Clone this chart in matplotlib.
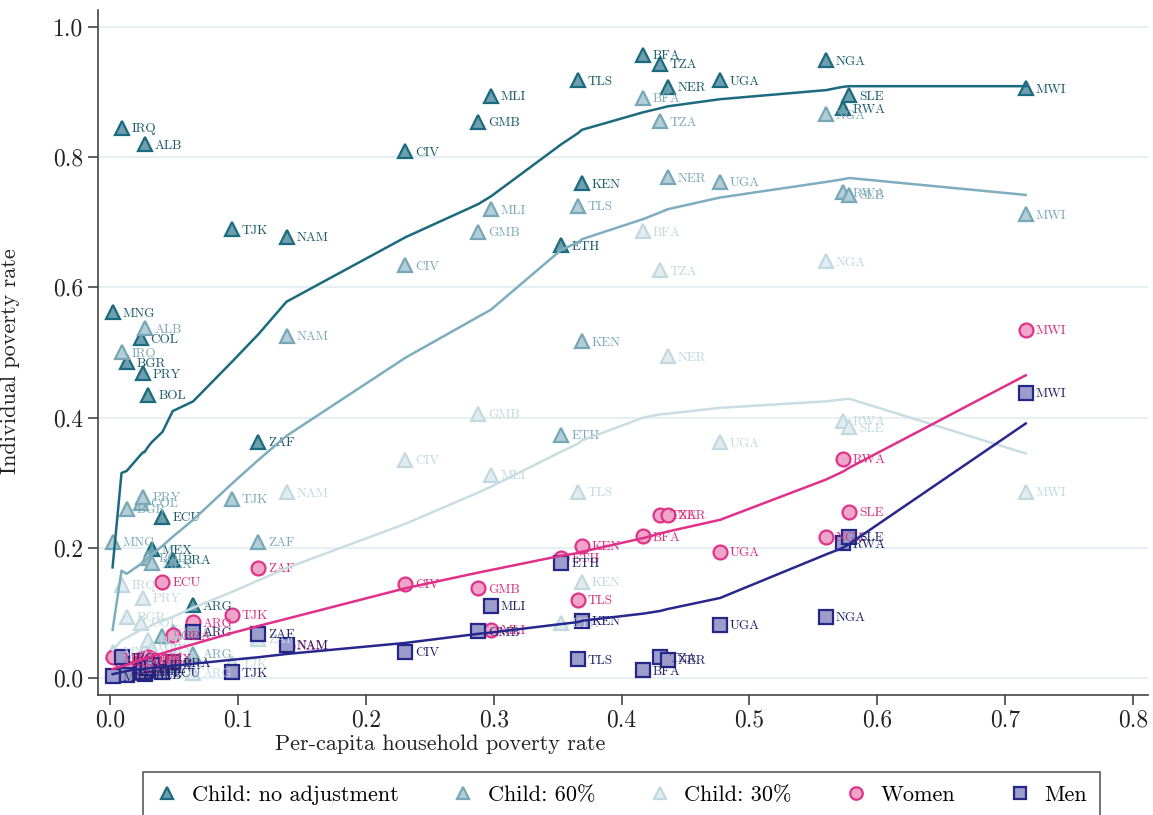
import numpy as np
import matplotlib.pyplot as plt
from matplotlib.lines import Line2D

plt.rcParams['font.family'] = ['cmr10', 'DejaVu Serif']
plt.rcParams['axes.unicode_minus'] = False

# country codes and per-capita household poverty rate (x)
countries = ['MNG', 'IRQ', 'BGR', 'COL', 'ALB', 'PRY', 'BOL', 'MEX', 'ECU', 'BRA',
             'ARG', 'TJK', 'ZAF', 'NAM', 'CIV', 'GMB', 'MLI', 'ETH', 'TLS', 'KEN',
             'BFA', 'TZA', 'NER', 'UGA', 'NGA', 'RWA', 'SLE', 'MWI']
hh_rate = [0.002, 0.009, 0.013, 0.024, 0.027, 0.026, 0.030, 0.033, 0.041, 0.049,
           0.065, 0.095, 0.116, 0.138, 0.231, 0.288, 0.298, 0.353, 0.366, 0.369,
           0.417, 0.430, 0.436, 0.477, 0.560, 0.573, 0.578, 0.716]

# individual poverty rates
child_noadj = [0.562, 0.845, 0.485, 0.522, 0.820, 0.468, 0.435, 0.198, 0.248, 0.182,
               0.112, 0.689, 0.363, 0.678, 0.809, 0.854, 0.894, 0.665, 0.918, 0.760,
               0.957, 0.943, 0.908, 0.918, 0.949, 0.875, 0.895, 0.906]
child_60 = [0.209, 0.500, 0.260, 0.269, 0.537, 0.278, 0.185, 0.176, 0.065, 0.070,
            0.037, 0.275, 0.209, 0.526, 0.634, 0.685, 0.720, 0.374, 0.725, 0.517,
            0.891, 0.855, 0.769, 0.762, 0.866, 0.746, 0.742, 0.712]
child_30 = [0.040, 0.143, 0.094, 0.085, 0.045, 0.123, 0.058, 0.045, 0.010, 0.020,
            0.008, 0.023, 0.060, 0.285, 0.335, 0.406, 0.312, 0.085, 0.286, 0.148,
            0.686, 0.626, 0.494, 0.362, 0.640, 0.395, 0.385, 0.286]
women = [0.032, 0.025, 0.015, 0.030, 0.020, 0.028, 0.032, 0.030, 0.148, 0.066,
         0.086, 0.097, 0.169, 0.050, 0.145, 0.138, 0.074, 0.185, 0.120, 0.203,
         0.218, 0.251, 0.251, 0.194, 0.217, 0.337, 0.255, 0.535]
men = [0.003, 0.032, 0.005, 0.012, 0.006, 0.010, 0.015, 0.020, 0.009, 0.024,
       0.071, 0.009, 0.068, 0.051, 0.040, 0.072, 0.111, 0.177, 0.029, 0.088,
       0.012, 0.032, 0.028, 0.082, 0.094, 0.207, 0.217, 0.438]

# smoothed (fitted) values at each country's household rate
fit_noadj = [0.170, 0.315, 0.318, 0.343, 0.347, 0.347, 0.356, 0.363, 0.378, 0.410,
             0.425, 0.485, 0.528, 0.578, 0.677, 0.728, 0.740, 0.820, 0.837, 0.842,
             0.869, 0.875, 0.878, 0.889, 0.903, 0.908, 0.909, 0.909]
fit_60 = [0.074, 0.165, 0.160, 0.175, 0.178, 0.178, 0.185, 0.190, 0.203, 0.217,
          0.243, 0.298, 0.335, 0.372, 0.492, 0.555, 0.566, 0.658, 0.669, 0.674,
          0.705, 0.715, 0.720, 0.738, 0.762, 0.766, 0.768, 0.742]
fit_30 = [0.043, 0.058, 0.062, 0.074, 0.075, 0.075, 0.078, 0.082, 0.088, 0.094,
          0.108, 0.132, 0.150, 0.169, 0.237, 0.285, 0.294, 0.348, 0.360, 0.365,
          0.400, 0.405, 0.406, 0.415, 0.425, 0.428, 0.429, 0.345]
fit_women = [0.014, 0.018, 0.020, 0.028, 0.029, 0.029, 0.032, 0.034, 0.038, 0.043,
             0.052, 0.069, 0.080, 0.091, 0.138, 0.162, 0.166, 0.188, 0.192, 0.194,
             0.215, 0.222, 0.225, 0.243, 0.305, 0.317, 0.323, 0.465]
fit_men = [0.006, 0.009, 0.011, 0.014, 0.014, 0.014, 0.015, 0.016, 0.017, 0.019,
           0.022, 0.028, 0.032, 0.037, 0.054, 0.068, 0.070, 0.083, 0.086, 0.088,
           0.099, 0.103, 0.106, 0.123, 0.190, 0.200, 0.206, 0.391]

series_names = ['Child: no adjustment', 'Child: 60%', 'Child: 30%', 'Women', 'Men']

series = [
    # values, fit, marker, edge, fill, label colour, line colour
    (child_noadj, fit_noadj, '^', '#1b6a7e', '#6d9fae', '#1b5a6b', '#1b6a7e'),
    (child_60, fit_60, '^', '#77a7b6', '#b3ced7', '#7ea9b6', '#7daebd'),
    (child_30, fit_30, '^', '#c2d9df', '#e1edf0', '#c3d8de', '#c9dde3'),
    (women, fit_women, 'o', '#df3389', '#eea5c9', '#d8307f', '#e0308a'),
    (men, fit_men, 's', '#25258a', '#9d9dcb', '#22226a', '#28288c'),
]

fig = plt.figure(figsize=(11.53, 8.15), dpi=100)
ax = fig.add_axes([98 / 1153, 1 - 695 / 815, 1050 / 1153, 685 / 815])

x = np.array(hh_rate)
order = np.argsort(x)

for vals, fit, mk, ec, fc, tc, lc in series:
    ax.plot(x, vals, ls='none', marker=mk, markersize=10 if mk != 's' else 9.5,
            markeredgecolor=ec, markerfacecolor=fc, markeredgewidth=1.6, zorder=3)
    for cx, cy, code in zip(x, vals, countries):
        ax.annotate(code, (cx, cy), xytext=(7, -1), textcoords='offset points',
                    va='center', ha='left', fontsize=9.5, color=tc, zorder=4)

for vals, fit, mk, ec, fc, tc, lc in series:
    ax.plot(x[order], np.array(fit)[order], color=lc, lw=1.8, zorder=5)

ax.set_xlim(-0.0094, 0.8116)
ax.set_ylim(-0.026, 1.026)

yt = [0.0, 0.2, 0.4, 0.6, 0.8, 1.0]
ax.set_yticks(yt)
ax.set_yticklabels(['%.1f' % v for v in yt])
xt = [0.0, 0.1, 0.2, 0.3, 0.4, 0.5, 0.6, 0.7, 0.8]
ax.set_xticks(xt)
ax.set_xticklabels(['%.1f' % v for v in xt])

ax.grid(axis='y', color='#e6eff2', lw=1.5, zorder=0)
ax.set_axisbelow(True)
for s in ['top', 'right']:
    ax.spines[s].set_visible(False)
for s in ['left', 'bottom']:
    ax.spines[s].set_color('#444444')
    ax.spines[s].set_linewidth(1.2)
ax.tick_params(direction='out', length=7, width=1.2, color='#444444',
               labelsize=17, labelcolor='#222222')

ax.set_xlabel('Per-capita household poverty rate', fontsize=16, color='#222222')
ax.xaxis.label.set_ha('left')
ax.xaxis.set_label_coords((275 - 98) / 1050, -0.058)
ax.set_ylabel('Individual poverty rate', fontsize=16, color='#222222')
ax.yaxis.set_label_coords(-0.074, 0.487)

handles = []
for (vals, fit, mk, ec, fc, tc, lc) in series:
    handles.append(Line2D([], [], ls='none', marker=mk, markersize=9,
                          markeredgecolor=ec, markerfacecolor=fc, markeredgewidth=1.6))
top = 1 - 772 / 815
leg = fig.legend(handles, series_names, loc='upper left',
                 bbox_to_anchor=(143 / 1153, top - 0.01, 957 / 1153, 0.01),
                 mode='expand', ncol=5, fontsize=16, frameon=True, fancybox=False,
                 edgecolor='#333333', borderpad=0.6, handlelength=1.0,
                 handletextpad=0.6, borderaxespad=0)
leg.get_frame().set_linewidth(1.2)

fig.savefig('out.png', dpi=100)
